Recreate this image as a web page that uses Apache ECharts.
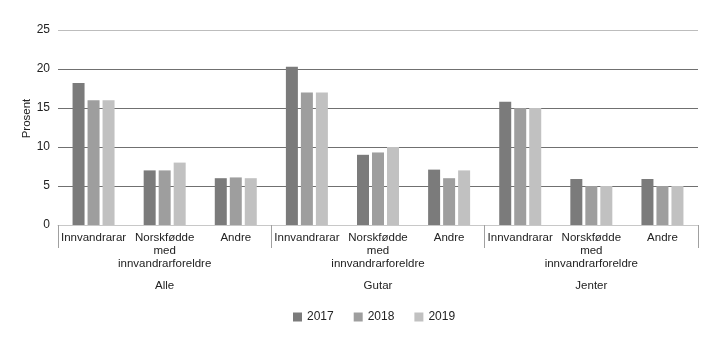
<!DOCTYPE html>
<html>
<head>
<meta charset="utf-8">
<script src="https://cdn.jsdelivr.net/npm/echarts@6/dist/echarts.min.js"></script>
<style>html,body{margin:0;padding:0;background:#fff}#c{width:719px;height:341px}</style>
</head>
<body>
<div id="c"></div>
<script>
const subCategories = ['Innvandrarar','Norskfødde\nmed\ninnvandrarforeldre','Andre','Innvandrarar','Norskfødde\nmed\ninnvandrarforeldre','Andre','Innvandrarar','Norskfødde\nmed\ninnvandrarforeldre','Andre'];
const groups = ['Alle','Gutar','Jenter'];
const years = ['2017','2018','2019'];
const v2017 = [18.2, 7.0, 6.0, 20.3, 9.0, 7.1, 15.8, 5.9, 5.9];
const v2018 = [16.0, 7.0, 6.1, 17.0, 9.3, 6.0, 15.0, 5.0, 5.0];
const v2019 = [16.0, 8.0, 6.0, 17.0, 10.0, 7.0, 15.0, 5.0, 5.0];
const yTicks = {min: 0, max: 25, interval: 5};

const font = 'Liberation Sans';
const colors = ['#7b7b7b', '#9e9e9e', '#c1c1c1'];
const chart = echarts.init(document.getElementById('c'));
chart.setOption({
  animation: false,
  textStyle: {fontFamily: font},
  grid: {left: 58, right: 21, top: 30, bottom: 116},
  legend: {
    top: 306, left: 288, itemWidth: 9, itemHeight: 9, itemGap: 20,
    icon: 'rect',
    textStyle: {fontFamily: font, fontSize: 12, color: '#222'},
    data: years
  },
  xAxis: [
    {
      type: 'category', data: subCategories,
      axisLine: {lineStyle: {color: '#c8c8c8', width: 1}},
      axisTick: {show: false},
      axisLabel: {interval: 0, margin: 6, fontSize: 11.5, lineHeight: 13, color: '#222', fontFamily: font}
    },
    {
      type: 'category', data: groups, position: 'bottom',
      axisLine: {show: false},
      axisTick: {show: true, length: 23, lineStyle: {color: '#a0a0a0'}},
      axisLabel: {margin: 55, fontSize: 11.5, color: '#222', fontFamily: font}
    }
  ],
  yAxis: {
    type: 'value', min: yTicks.min, max: yTicks.max, interval: yTicks.interval,
    name: 'Prosent', nameLocation: 'middle', nameGap: 25, nameRotate: 90, nameMoveOverlap: false,
    nameTextStyle: {fontSize: 11.5, color: '#222', fontFamily: font, padding: [0, 0, 0, 18]},
    axisLine: {show: false}, axisTick: {show: false},
    axisLabel: {margin: 8, fontSize: 12, color: '#222', fontFamily: font},
    splitLine: {lineStyle: {color: ['#999', '#707070', '#707070', '#707070', '#707070', '#bdbdbd'], width: 1}}
  },
  series: [
    {name: years[0], type: 'bar', data: v2017, barWidth: 12, barGap: '25%', itemStyle: {color: colors[0]}},
    {name: years[1], type: 'bar', data: v2018, barWidth: 12, barGap: '25%', itemStyle: {color: colors[1]}},
    {name: years[2], type: 'bar', data: v2019, barWidth: 12, barGap: '25%', itemStyle: {color: colors[2]}}
  ]
});
</script>
</body>
</html>
